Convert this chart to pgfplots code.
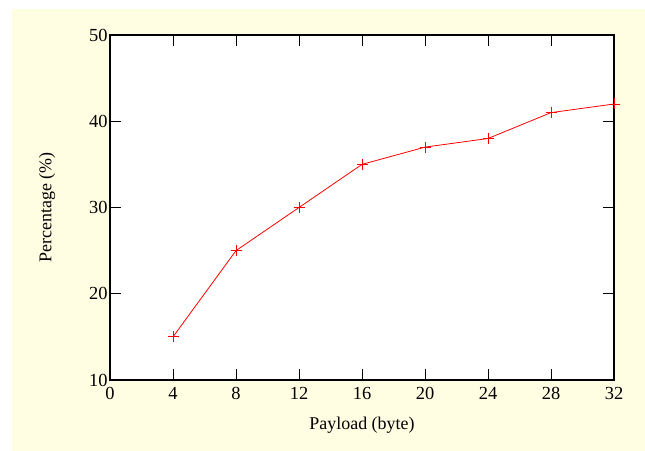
\documentclass[border=0pt]{standalone}
\usepackage{fontspec}
\setmainfont{Liberation Serif}
\usepackage{pgfplots}
\pgfplotsset{compat=1.18}
\definecolor{bgy}{RGB}{255,253,226}
\begin{document}
\begin{tikzpicture}[x=1bp,y=1bp]
\useasboundingbox (-110,-71) rectangle (535,380);
\fill[bgy] (-98,-71) rectangle (535,371);
\begin{axis}[
  at={(0,0)}, anchor=south west,
  scale only axis, width=504bp, height=345bp,
  xmin=0, xmax=32, ymin=10, ymax=50,
  xtick={0,4,...,32}, ytick={10,20,...,50},
  axis background/.style={fill=white},
  axis line style={line width=1.6pt},
  tick style={black, line width=0.8pt},
  major tick length=11bp,
  tick align=inside,
  xtick pos=both, ytick pos=both,
  /pgf/number format/assume math mode=true,
  ticklabel style={font=\fontsize{18.5}{20}\selectfont},
  yticklabel style={xshift=1bp},
  xticklabel style={yshift=-4bp},
  xlabel={Payload (byte)}, ylabel={Percentage (\%)},
  label style={font=\fontsize{18}{20}\selectfont},
  xlabel style={at={(rel axis cs:0.5,0)}, anchor=center, yshift=-45bp},
  ylabel style={at={(rel axis cs:0,0.5)}, anchor=center, yshift=63bp},
]
\addplot[color=red, line width=0.8pt, mark=+, mark size=5.5bp, mark options={draw=red, solid, line width=0.8pt}] coordinates {
(4,15) (8,25) (12,30) (16,35) (20,37) (24,38) (28,41) (32,42)
};
\end{axis}
\end{tikzpicture}
\end{document}
